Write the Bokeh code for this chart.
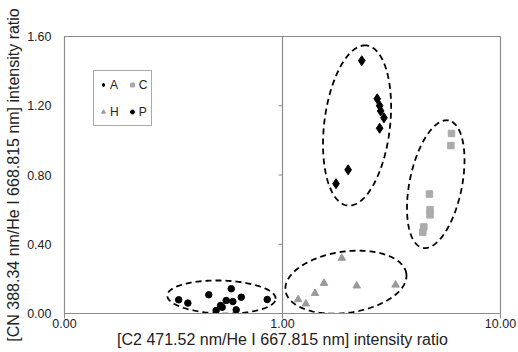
import numpy as np
from bokeh.plotting import figure
from bokeh.models import Span, Legend, LegendItem, FixedTicker
from bokeh.embed import file_html
from bokeh.resources import INLINE

# ---- data ----
a_x = [2.31, 2.72, 2.79, 2.82, 2.92, 2.79, 2.00, 1.76]
a_y = [1.46, 1.24, 1.20, 1.17, 1.13, 1.07, 0.83, 0.75]
c_x = [5.96, 5.92, 4.72, 4.75, 4.75, 4.45, 4.40]
c_y = [1.04, 0.97, 0.69, 0.60, 0.57, 0.50, 0.47]
h_x = [1.87, 1.55, 2.19, 3.30, 1.41, 1.18, 1.28]
h_y = [0.32, 0.175, 0.16, 0.165, 0.117, 0.081, 0.056]
p_x = [0.334, 0.368, 0.459, 0.582, 0.552, 0.592, 0.647, 0.520, 0.529, 0.496, 0.613, 0.851]
p_y = [0.079, 0.060, 0.108, 0.143, 0.075, 0.069, 0.094, 0.046, 0.036, 0.017, 0.021, 0.081]

x_ticks = [0.1, 1, 10]
x_tick_labels = ["0.00", "1.00", "10.00"]
y_ticks = [0.0, 0.4, 0.8, 1.2, 1.6]
y_tick_labels = ["0.00", "0.40", "0.80", "1.20", "1.60"]

# cluster ellipses: centre (log10 x, y), semi-axes (px), rotation (deg)
ell_cx = [0.342, 0.703, 0.291, -0.280]
ell_cy = [1.086, 0.747, 0.181, 0.095]
ell_a = [80.6, 65.0, 61.0, 54.2]
ell_b = [32.9, 26.2, 30.6, 16.5]
ell_ang = [83.2, 78.5, 8.0, -1.7]

FONT = "Liberation Sans"
W, H = 518, 352
FW, FH = 436, 277

p = figure(width=W, height=H, x_axis_type="log", x_range=(0.1, 10), y_range=(0, 1.6),
           output_backend="svg", toolbar_location=None,
           min_border_left=64, min_border_right=18, min_border_top=36, min_border_bottom=39)
p.xgrid.visible = False
p.ygrid.visible = False
p.outline_line_color = "#8c8c8c"
p.outline_line_width = 1.2
p.background_fill_color = "white"
p.border_fill_color = "white"

xa = p.xaxis[0]
xa.ticker = FixedTicker(ticks=x_ticks, minor_ticks=[])
xa.major_label_overrides = {t: l for t, l in zip(x_ticks, x_tick_labels)}
xa.axis_label = "[C2 471.52 nm/He I 667.815 nm] intensity ratio"
xa.axis_line_color = "#8c8c8c"
xa.major_tick_line_color = "#8c8c8c"
xa.major_tick_out = 5
xa.major_tick_in = 0
xa.minor_tick_line_color = None
xa.major_label_standoff = 0
xa.axis_label_standoff = 0
xa.major_label_text_font = FONT
xa.major_label_text_font_size = "12.5px"
xa.major_label_text_color = "#222222"
xa.axis_label_text_font = FONT
xa.axis_label_text_font_size = "16px"
xa.axis_label_text_font_style = "normal"
xa.axis_label_text_color = "#222222"

ya = p.yaxis[0]
ya.ticker = FixedTicker(ticks=y_ticks, minor_ticks=[])
ya.major_label_overrides = {t: l for t, l in zip(y_ticks, y_tick_labels)}
ya.axis_label = "[CN 388.34 nm/He I 668.815 nm] intensity ratio"
ya.axis_line_color = "#8c8c8c"
ya.major_tick_line_color = None
ya.minor_tick_line_color = None
ya.major_label_standoff = 7
ya.axis_label_standoff = 2
ya.major_label_text_font = FONT
ya.major_label_text_font_size = "12.5px"
ya.major_label_text_color = "#222222"
ya.axis_label_text_font = FONT
ya.axis_label_text_font_size = "16px"
ya.axis_label_text_font_style = "normal"
ya.axis_label_text_color = "#222222"

# vertical axis line crossing at x = 1 with small ticks
p.add_layout(Span(location=1, dimension="height", line_color="#8c8c8c", line_width=1.2))
tick_len = 10 ** (-4 / (FW / 2))
p.segment(x0=[tick_len] * len(y_ticks), x1=[1] * len(y_ticks), y0=y_ticks, y1=y_ticks,
          line_color="#8c8c8c", line_width=1)

# ellipses
ppd = FW / 2.0      # px per decade
ppu = FH / 1.6      # px per y unit
t = np.linspace(0, 2 * np.pi, 240)
for cx, cy, a, b, ang in zip(ell_cx, ell_cy, ell_a, ell_b, ell_ang):
    th = np.radians(ang)
    u, v = a * np.cos(t), b * np.sin(t)
    X = u * np.cos(th) - v * np.sin(th)
    Y = u * np.sin(th) + v * np.cos(th)
    p.line(10 ** (cx + X / ppd), cy + Y / ppu, line_color="black", line_width=1.8,
           line_dash="6 4")

ra = p.scatter(a_x, a_y, marker="diamond", size=10, fill_color="black", line_color="black")
rc = p.scatter(c_x, c_y, marker="square", size=6.5, fill_color="#ababab", line_color="#ababab")
rh = p.scatter(h_x, h_y, marker="triangle", size=7.5, fill_color="#9a9a9a", line_color="#9a9a9a")
rp = p.scatter(p_x, p_y, marker="circle", size=6.5, fill_color="black", line_color="black")

legend = Legend(items=[LegendItem(label="A", renderers=[ra]),
                       LegendItem(label="C", renderers=[rc]),
                       LegendItem(label="H", renderers=[rh]),
                       LegendItem(label="P", renderers=[rp])],
                location=(29, 187), orientation="horizontal", nrows=2)
legend.label_text_font = FONT
legend.label_text_font_size = "12px"
legend.label_text_color = "#222222"
legend.border_line_color = "#555555"
legend.border_line_width = 1
legend.padding = 4
legend.spacing = 8
legend.glyph_width = 10
legend.glyph_height = 19
legend.label_height = 19
legend.label_width = 8
legend.label_standoff = 2
legend.margin = 0
legend.background_fill_alpha = 1
p.add_layout(legend)

open("out.html", "w").write(file_html(p, INLINE))
